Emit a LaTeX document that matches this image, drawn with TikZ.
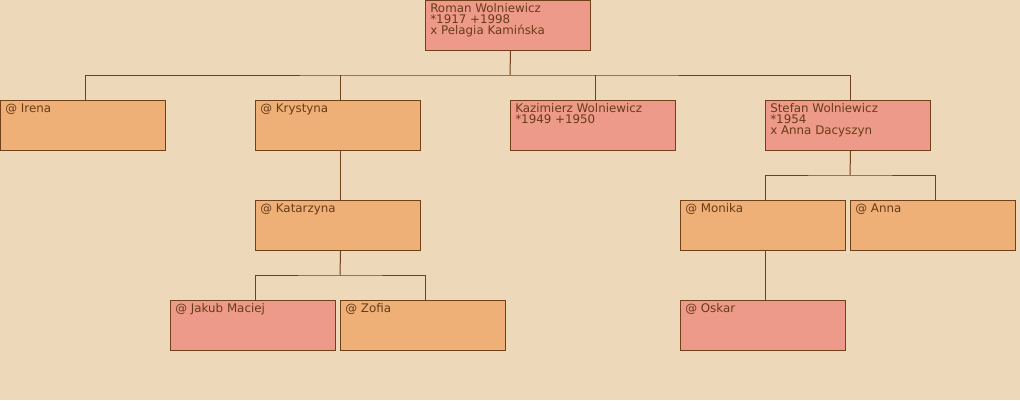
\documentclass[tikz,border=0pt]{standalone}
\usepackage{fontspec}
\setmainfont{DejaVu Sans}
\definecolor{bg}{RGB}{238,216,186}
\definecolor{salmon}{RGB}{238,154,138}
\definecolor{orng}{RGB}{238,176,118}
\definecolor{edge}{RGB}{112,64,24}
\definecolor{txt}{RGB}{104,60,24}
\begin{document}
\begin{tikzpicture}[x=0.75pt,y=-0.75pt,
  person/.style={draw=edge,line width=0.75pt,minimum width=123.75pt,minimum height=37.5pt,anchor=north west,inner sep=0pt},
  male/.style={person,fill=salmon},
  female/.style={person,fill=orng},
  lbl/.style={anchor=north west,text=txt,font=\fontsize{8.9}{8.3}\selectfont,align=left,inner sep=0pt},
  conn/.style={draw=edge,line width=0.75pt}]
\fill[bg] (0,0) rectangle (1020,400);
\useasboundingbox (0,0) rectangle (1020,400);
% boxes
\node[male]   (roman) at (425,0) {};
\node[female] (irena) at (0,100) {};
\node[female] (kry)   at (255,100) {};
\node[male]   (kaz)   at (510,100) {};
\node[male]   (stef)  at (765,100) {};
\node[female] (kat)   at (255,200) {};
\node[male]   (jak)   at (170,300) {};
\node[female] (zof)   at (340,300) {};
\node[female] (mon)   at (680,200) {};
\node[female] (ann)   at (850,200) {};
\node[male]   (osk)   at (680,300) {};
% labels
\node[lbl] (troman) at (430,3.5) {Roman Wolniewicz\\*1917 +1998\\x Pelagia Kamińska};
\node[lbl] (tirena) at (5,103.5) {@ Irena};
\node[lbl] (tkry) at (260,103.5) {@ Krystyna};
\node[lbl] (tkaz) at (515,103.5) {Kazimierz Wolniewicz\\*1949 +1950};
\node[lbl] (tstef) at (770,103.5) {Stefan Wolniewicz\\*1954\\x Anna Dacyszyn};
\node[lbl] (tkat) at (260,203.5) {@ Katarzyna};
\node[lbl] (tjak) at (175,303.5) {@ Jakub Maciej};
\node[lbl] (tzof) at (345,303.5) {@ Zofia};
\node[lbl] (tmon) at (685,203.5) {@ Monika};
\node[lbl] (tann) at (855,203.5) {@ Anna};
\node[lbl] (tosk) at (685,303.5) {@ Oskar};
% connector anchor points (offset 85px from box left)
\tikzset{sh/.style={xshift=1.875pt}}
\coordinate (rs) at ([sh]roman.south);
\coordinate (irn) at ([sh]irena.north);
\coordinate (kryn) at ([sh]kry.north);
\coordinate (krys) at ([sh]kry.south);
\coordinate (kazn) at ([sh]kaz.north);
\coordinate (stefn) at ([sh]stef.north);
\coordinate (stefs) at ([sh]stef.south);
\coordinate (katn) at ([sh]kat.north);
\coordinate (kats) at ([sh]kat.south);
\coordinate (jakn) at ([sh]jak.north);
\coordinate (zofn) at ([sh]zof.north);
\coordinate (monn) at ([sh]mon.north);
\coordinate (mons) at ([sh]mon.south);
\coordinate (annn) at ([sh]ann.north);
\coordinate (oskn) at ([sh]osk.north);
\coordinate (r1) at (510,75);
\coordinate (k1) at (340,275);
\coordinate (s1) at (850,175);
% connectors
\draw[conn] (rs) -- (r1);
\draw[conn] (irn) |- (r1) -| (stefn);
\draw[conn] (kryn) -- (kryn |- r1);
\draw[conn] (kazn) -- (kazn |- r1);
\draw[conn] (krys) -- (katn);
\draw[conn] (kats) -- (k1);
\draw[conn] (jakn) |- (k1) -| (zofn);
\draw[conn] (stefs) -- (s1);
\draw[conn] (monn) |- (s1) -| (annn);
\draw[conn] (mons) -- (oskn);
\end{tikzpicture}
\end{document}
